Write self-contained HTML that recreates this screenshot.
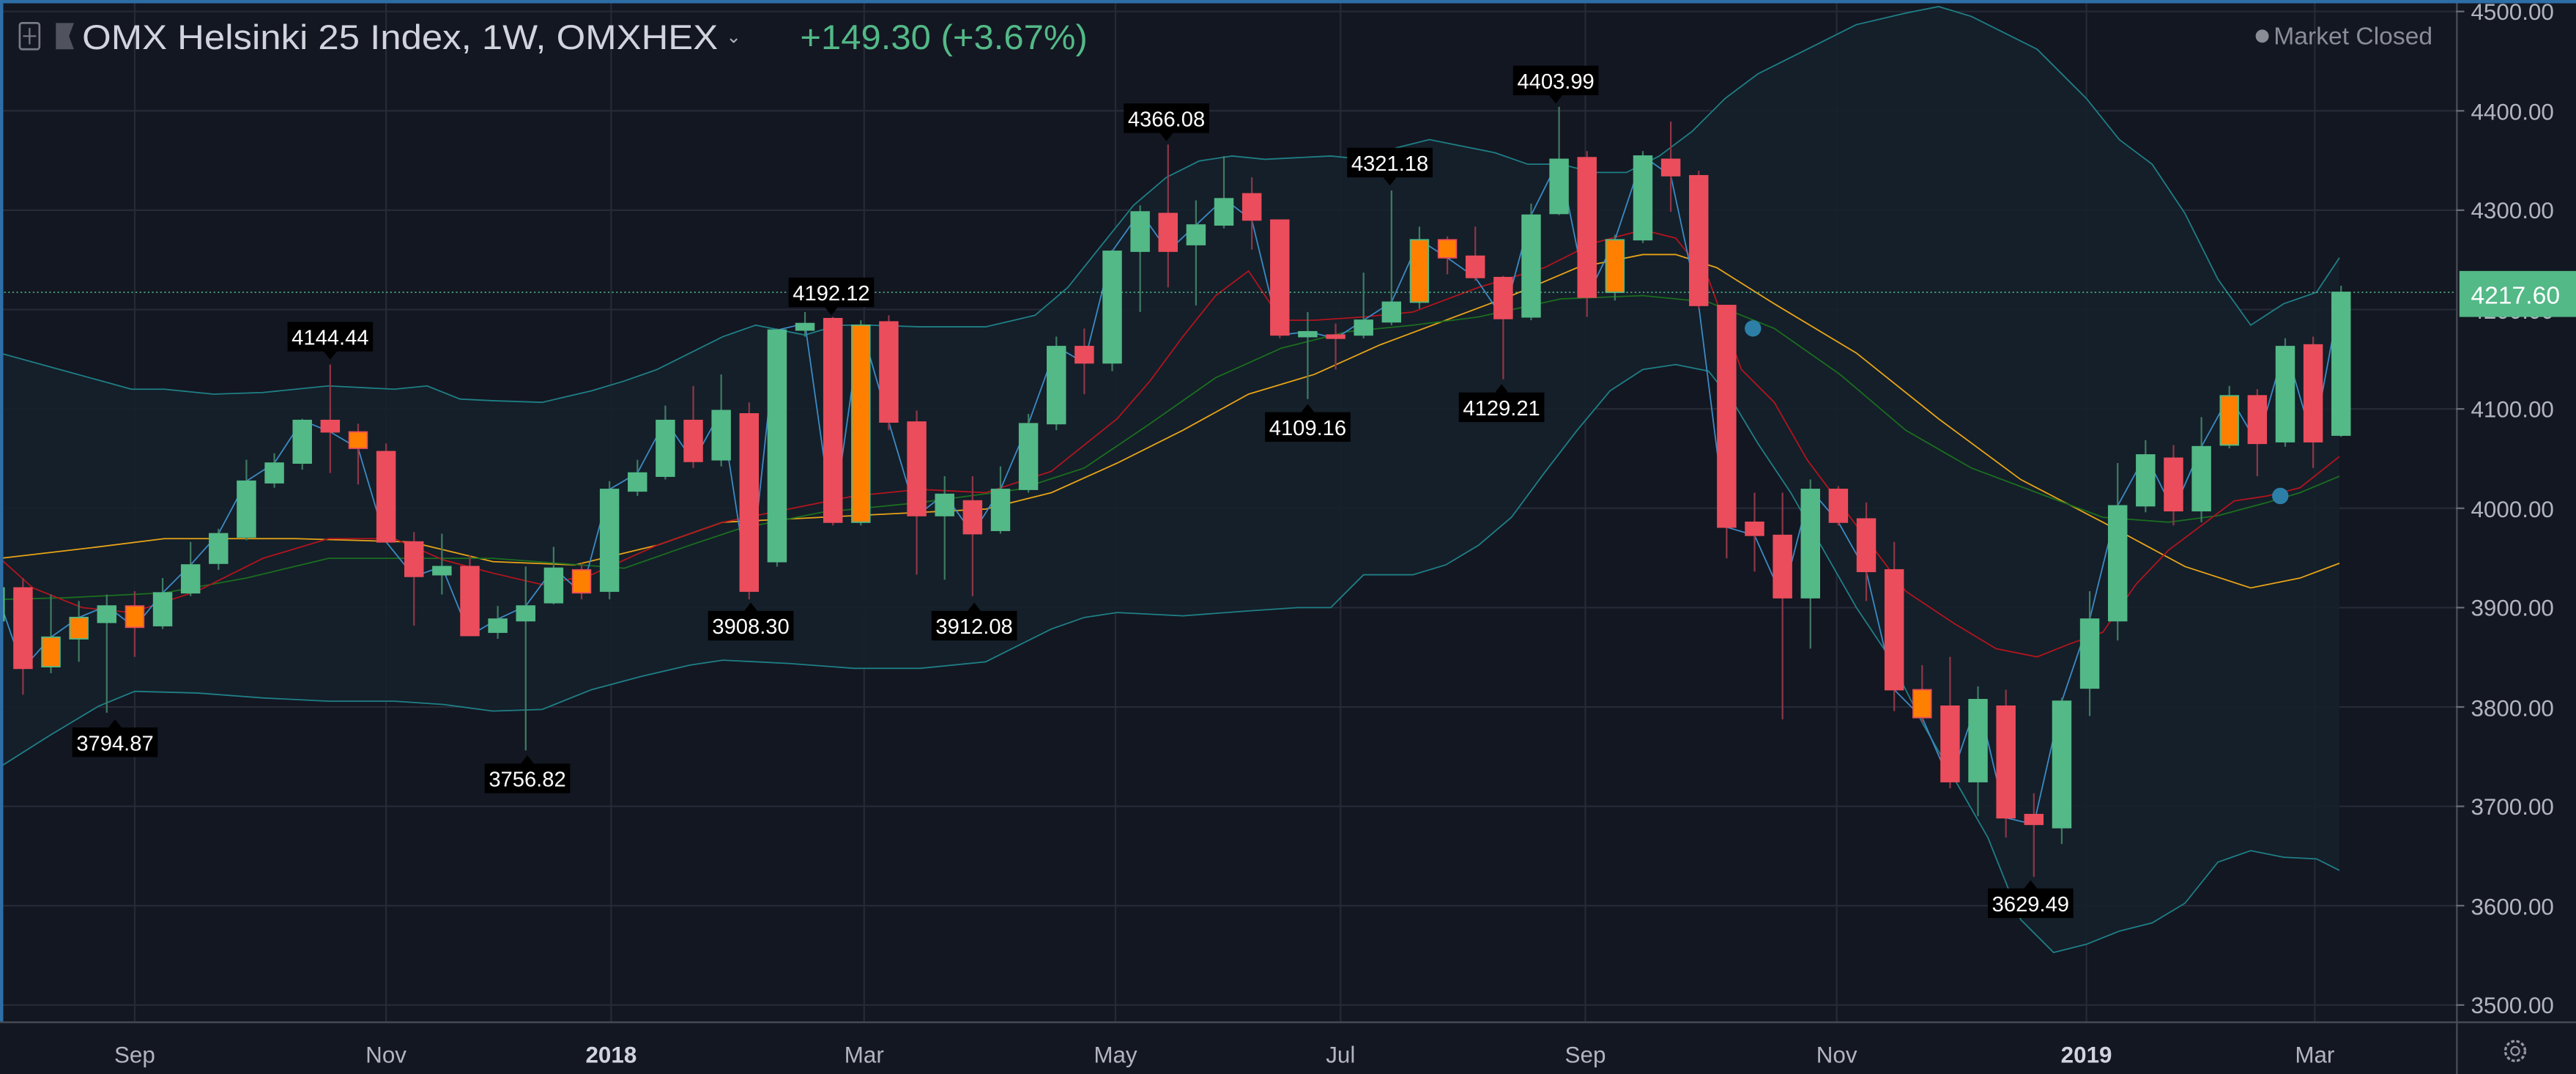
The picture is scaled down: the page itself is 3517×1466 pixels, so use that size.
<!DOCTYPE html>
<html><head><meta charset="utf-8"><style>
html,body{margin:0;padding:0;background:#131722;}
svg{display:block;}
text{font-family:"Liberation Sans",sans-serif;}
</style></head><body>
<svg id="s" width="3517" height="1466" viewBox="0 0 1568 654" preserveAspectRatio="none" xmlns="http://www.w3.org/2000/svg">
<rect x="0" y="0" width="1568" height="654" fill="#131722"/>
<g id="grid" stroke="#262a36" stroke-width="1">
<line x1="0" y1="7" x2="1495" y2="7"/><line x1="0" y1="67.5" x2="1495" y2="67.5"/><line x1="0" y1="128" x2="1495" y2="128"/><line x1="0" y1="188.5" x2="1495" y2="188.5"/><line x1="0" y1="249" x2="1495" y2="249"/><line x1="0" y1="309.5" x2="1495" y2="309.5"/><line x1="0" y1="370" x2="1495" y2="370"/><line x1="0" y1="430.5" x2="1495" y2="430.5"/><line x1="0" y1="491" x2="1495" y2="491"/><line x1="0" y1="551.5" x2="1495" y2="551.5"/><line x1="0" y1="612" x2="1495" y2="612"/>
<line x1="82" y1="0" x2="82" y2="622"/><line x1="235" y1="0" x2="235" y2="622"/><line x1="372" y1="0" x2="372" y2="622"/><line x1="526" y1="0" x2="526" y2="622"/><line x1="679" y1="0" x2="679" y2="622"/><line x1="816" y1="0" x2="816" y2="622"/><line x1="965" y1="0" x2="965" y2="622"/><line x1="1118" y1="0" x2="1118" y2="622"/><line x1="1270" y1="0" x2="1270" y2="622"/><line x1="1409" y1="0" x2="1409" y2="622"/>
</g>
<path id="bbfill" fill="#15202a" fill-opacity="0.9"/>
<polyline id="bbu" fill="none" stroke="#1f7f86" stroke-width="0.8"/>
<polyline id="bbl" fill="none" stroke="#1f7f86" stroke-width="0.8"/>
<polyline id="maO" fill="none" stroke="#e8a317" stroke-width="0.8"/>
<polyline id="maG" fill="none" stroke="#1b6e1f" stroke-width="0.8"/>
<polyline id="maR" fill="none" stroke="#b3141e" stroke-width="0.8"/>
<polyline id="maB" fill="none" stroke="#3c8ac4" stroke-width="0.8"/>
<line x1="0" y1="178" x2="1495" y2="178" stroke="#53b987" stroke-width="0.7" stroke-dasharray="1,1.5"/>
<g id="candles"></g>
<circle cx="1067" cy="200" r="5" fill="#2d7fa8"/>
<circle cx="1388" cy="302" r="5" fill="#2d7fa8"/>
<g id="ann" font-size="13" fill="#fff" text-anchor="middle"></g>
<rect x="1495" y="0" width="73" height="654" fill="#131722"/>
<line x1="1495.5" y1="0" x2="1495.5" y2="654" stroke="#4a4e58" stroke-width="1"/>
<line x1="0" y1="622.5" x2="1568" y2="622.5" stroke="#4a4e58" stroke-width="1"/>
<g font-size="14" fill="#b2b5be">
<text x="1504" y="12">4500.00</text><text x="1504" y="73">4400.00</text><text x="1504" y="133">4300.00</text><text x="1504" y="194">4200.00</text><text x="1504" y="254">4100.00</text><text x="1504" y="315">4000.00</text><text x="1504" y="375">3900.00</text><text x="1504" y="436">3800.00</text><text x="1504" y="496">3700.00</text><text x="1504" y="557">3600.00</text><text x="1504" y="617">3500.00</text>
</g>
<g stroke="#6a6e78"><line x1="1495" y1="7" x2="1500" y2="7"/><line x1="1495" y1="67.5" x2="1500" y2="67.5"/><line x1="1495" y1="128" x2="1500" y2="128"/><line x1="1495" y1="249" x2="1500" y2="249"/><line x1="1495" y1="309.5" x2="1500" y2="309.5"/><line x1="1495" y1="370" x2="1500" y2="370"/><line x1="1495" y1="430.5" x2="1500" y2="430.5"/><line x1="1495" y1="491" x2="1500" y2="491"/><line x1="1495" y1="551.5" x2="1500" y2="551.5"/><line x1="1495" y1="612" x2="1500" y2="612"/></g>
<rect x="1497" y="165" width="71" height="28" fill="#53b987"/>
<text x="1504" y="185" font-size="15" fill="#fff">4217.60</text>
<g font-size="14" fill="#b2b5be" text-anchor="middle">
<text x="82" y="647">Sep</text><text x="235" y="647">Nov</text><text x="372" y="647" font-weight="bold" fill="#d1d4dc">2018</text><text x="526" y="647">Mar</text><text x="679" y="647">May</text><text x="816" y="647">Jul</text><text x="965" y="647">Sep</text><text x="1118" y="647">Nov</text><text x="1270" y="647" font-weight="bold" fill="#d1d4dc">2019</text><text x="1409" y="647">Mar</text>
</g>
<circle cx="1531" cy="640" r="6" fill="none" stroke="#9598a1" stroke-width="1.5" stroke-dasharray="2,1.2"/>
<circle cx="1531" cy="640" r="2.5" fill="none" stroke="#9598a1" stroke-width="1"/>
<rect x="12" y="14" width="12" height="16" rx="1.5" fill="none" stroke="#787b86" stroke-width="1.2"/>
<line x1="18" y1="17" x2="18" y2="27" stroke="#787b86"/><line x1="14" y1="22" x2="22" y2="22" stroke="#787b86"/>
<polygon points="34,14 45,14 42,22 45,30 34,30" fill="#50535e"/>
<text x="50" y="30" font-size="21" fill="#d1d4dc" textLength="387" lengthAdjust="spacingAndGlyphs">OMX Helsinki 25 Index, 1W, OMXHEX</text>
<text x="442" y="26" font-size="11" fill="#b2b5be">⌄</text>
<text x="487" y="30" font-size="21" fill="#53b987" textLength="175" lengthAdjust="spacingAndGlyphs">+149.30 (+3.67%)</text>
<circle cx="1377" cy="22" r="4" fill="#8a8d96"/>
<text x="1384" y="27" font-size="15" fill="#8a8d96">Market Closed</text>
<rect x="0" y="0" width="1568" height="2" fill="#2e6ea6"/>
<rect x="0" y="0" width="2" height="622" fill="#2e6ea6"/>
<g font-size="13" fill="#fff" text-anchor="middle">
<text x="201" y="210">4144.44</text><text x="506" y="183">4192.12</text><text x="710" y="77">4366.08</text><text x="846" y="104">4321.18</text><text x="947" y="54">4403.99</text><text x="70" y="457">3794.87</text><text x="321" y="479">3756.82</text><text x="457" y="386">3908.30</text><text x="593" y="386">3912.08</text><text x="796" y="265">4109.16</text><text x="914" y="253">4129.21</text><text x="1236" y="555">3629.49</text>
</g>
</svg>
<script>
var NS="http://www.w3.org/2000/svg";
function el(t,a,p){var e=document.createElementNS(NS,t);for(var k in a)e.setAttribute(k,a[k]);(p||document.getElementById('s')).appendChild(e);return e;}
var C=[
['G',358,378,352,390],
['R',358,407,352,423],['OG',388,406,362,410],['OG',376,389,366,403],['G',369,379,362,434],['OR',369,382,360,400],
['G',361,381,352,383],['G',344,361,330,363],['G',325,343,322,347],['G',293,327,280,329],['G',282,294,276,297],
['G',256,282,255,286],['R',256,263,222,288],['OR',263,273,258,295],['R',275,330,270,330],['R',330,351,324,381],
['G',345,350,325,362],['R',345,387,338,387],['G',377,385,369,389],['G',369,378,345,457],['G',346,367,333,368],
['OR',347,361,343,365],['G',298,360,293,365],['G',288,299,280,302],['G',256,290,247,292],['R',256,281,235,285],
['G',250,280,228,284],['R',252,360,245,365],['G',201,342,200,345],['G',197,201,190,205],['R',194,318,193,320],
['OG',198,318,195,320],['R',196,257,192,262],['R',257,314,250,350],['G',301,314,290,353],['R',305,325,290,363],
['G',298,323,284,325],['G',258,298,252,300],['G',211,258,205,262],['R',211,221,200,240],['G',153,221,152,226],
['G',129,153,125,190],['R',130,153,88,175],['G',137,149,122,186],['G',121,137,95,139],['R',118,134,108,152],
['R',134,204,134,206],['G',202,205,190,243],['R',204,206,197,225],['G',195,204,166,206],['G',184,196,116,198],
['OG',146,184,138,188],['OR',146,157,144,167],['R',156,169,138,171],['R',169,194,168,231],['G',131,193,124,195],
['G',97,130,65,131],['R',96,181,92,193],['OG',146,178,143,183],['G',95,146,92,148],['R',97,107,74,129],
['R',107,186,104,188],['R',186,321,186,340],['R',318,326,300,348],['R',326,364,300,438],['G',298,364,292,395],
['R',298,318,296,320],['R',316,348,306,366],['R',347,420,330,433],['OR',420,437,405,440],['R',430,476,400,480],
['G',426,476,418,497],['R',430,498,420,510],['R',496,502,483,534],['G',427,504,425,514],['G',377,419,360,436],
['G',308,378,282,390],['G',277,308,268,312],['R',279,311,271,320],['G',272,311,254,318],['OG',241,271,235,273],
['R',241,270,237,290],['G',211,269,206,272],['R',210,269,205,285],['G',178,265,174,266]];
var g=document.getElementById('candles');
var col={G:'#53b987',R:'#eb4d5c'},wick={G:'#3f7a62',R:'#8e3646'};
for(var i=0;i<C.length;i++){
 var c=C[i],x=14+17*(i-1),t=c[0],base=t.length>1?t[1]:t;
 el('line',{x1:x,x2:x,y1:c[3],y2:c[4],stroke:wick[base],'stroke-width':1},g);
 var h=Math.max(c[2]-c[1],1.5);
 el('rect',{x:x-5.5,y:c[1],width:11,height:h,fill:t.length>1?'#ff8000':col[base],stroke:col[base],'stroke-width':0.8},g);
}
function pts(a){return a.map(function(p){return p.join(',')}).join(' ');}
var U=[[0,215],[40,226],[80,237],[100,237],[130,240],[160,239],[200,235],[240,237],[260,235],[280,243],[300,244],[330,245],[360,238],[380,232],[400,225],[440,205],[460,198],[490,204],[510,198],[530,198],[560,199],[600,199],[630,192],[650,175],[670,150],[690,125],[710,108],[730,98],[750,95],[770,97],[790,96],[810,95],[830,97],[850,90],[870,85],[890,89],[910,93],[930,100],[950,100],[970,105],[990,105],[1010,95],[1030,80],[1050,60],[1070,45],[1090,35],[1110,25],[1130,15],[1160,8],[1180,4],[1200,10],[1220,20],[1240,30],[1270,60],[1290,85],[1310,100],[1330,130],[1350,170],[1370,198],[1390,185],[1410,178],[1424,157]];
var L=[[0,467],[30,448],[60,430],[82,421],[120,422],[160,425],[200,427],[240,427],[270,429],[300,433],[330,432],[360,420],[390,412],[420,405],[440,402],[480,404],[520,407],[560,407],[600,403],[620,393],[640,383],[660,376],[680,373],[720,375],[760,372],[790,370],[810,370],[830,350],[860,350],[880,344],[900,332],[920,315],[940,288],[960,262],[980,238],[1000,225],[1020,222],[1040,226],[1055,245],[1070,270],[1090,300],[1110,335],[1130,370],[1150,400],[1170,440],[1190,475],[1210,510],[1230,560],[1250,580],[1270,575],[1290,567],[1310,562],[1330,550],[1350,525],[1370,518],[1390,522],[1410,523],[1424,530]];
document.getElementById('bbu').setAttribute('points',pts(U));
document.getElementById('bbl').setAttribute('points',pts(L));
document.getElementById('bbfill').setAttribute('d','M'+pts(U)+' L'+pts(L.slice().reverse())+' Z');
document.getElementById('maO').setAttribute('points',pts([[0,340],[60,333],[100,328],[180,328],[250,330],[300,342],[350,344],[400,332],[440,318],[480,316],[520,314],[560,312],[600,310],[640,300],[680,282],[720,262],[760,240],[800,228],[840,210],[880,195],[920,180],[960,163],[1000,155],[1020,155],[1045,163],[1080,185],[1130,215],[1180,255],[1230,292],[1280,318],[1330,345],[1370,358],[1400,352],[1424,343]]));
document.getElementById('maG').setAttribute('points',pts([[0,365],[40,364],[100,361],[150,352],[200,340],[250,340],[300,340],[340,343],[380,346],[420,332],[450,322],[500,312],[560,306],[620,298],[660,285],[700,258],[740,230],[780,212],[820,202],[860,198],[900,193],[950,182],[1000,180],[1040,184],[1080,200],[1120,228],[1160,262],[1200,285],[1240,300],[1280,315],[1320,318],[1350,314],[1380,306],[1400,300],[1424,290]]));
document.getElementById('maR').setAttribute('points',pts([[0,340],[20,358],[50,370],[80,373],[120,360],[160,340],[200,328],[240,328],[270,341],[300,349],[330,356],[360,350],[400,332],[440,318],[480,310],[520,302],[560,298],[600,300],[640,287],[680,255],[700,232],[720,205],[740,180],[760,165],[780,195],[800,195],[830,193],[860,190],[900,175],[940,163],[970,148],[1000,140],[1020,145],[1040,170],[1060,225],[1080,245],[1100,280],[1130,320],[1160,360],[1190,380],[1215,395],[1240,400],[1260,392],[1280,385],[1300,356],[1320,335],[1340,320],[1360,305],[1380,302],[1400,297],[1424,278]]));
var B=[];for(var i=0;i<C.length;i++){var c=C[i];var cl=(c[0].indexOf('R')>=0)?c[2]:c[1];B.push([14+17*(i-1),cl]);}
document.getElementById('maB').setAttribute('points',pts(B));
var A=[[201,205,0],[506,178,0],[710,72,0],[846,99,0],[947,49,0],[70,452,1],[321,474,1],[457,381,1],[593,381,1],[796,260,1],[914,248,1],[1236,550,1]];
var ag=document.getElementById('ann');
A.forEach(function(a){var x=a[0],y=a[1];
 el('rect',{x:x-26,y:y-9,width:52,height:18,fill:'#000'},ag);
 if(a[2]==0)el('polygon',{points:(x-4)+','+(y+9)+' '+(x+4)+','+(y+9)+' '+x+','+(y+14),fill:'#000'},ag);
 else el('polygon',{points:(x-4)+','+(y-9)+' '+(x+4)+','+(y-9)+' '+x+','+(y-14),fill:'#000'},ag);
});
</script>
</body></html>
